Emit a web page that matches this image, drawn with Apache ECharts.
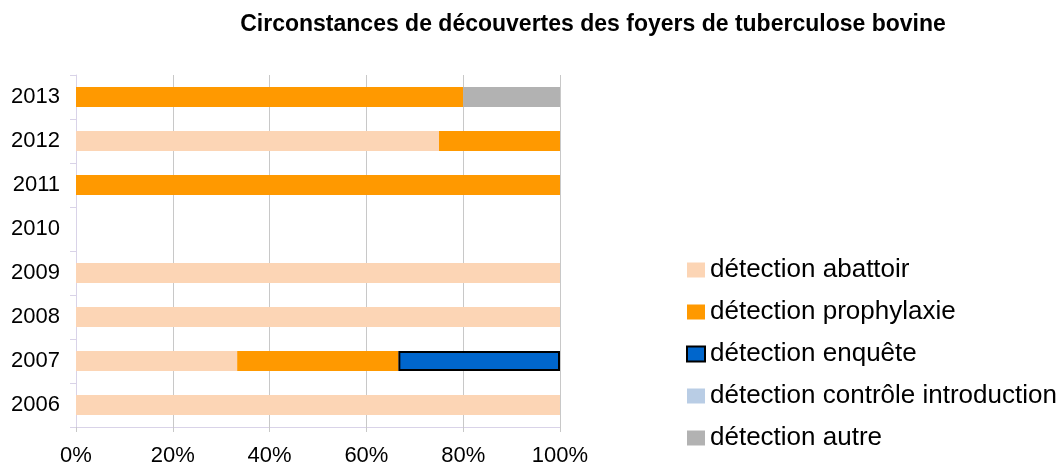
<!DOCTYPE html>
<html>
<head>
<meta charset="utf-8">
<script src="https://cdn.jsdelivr.net/npm/echarts@6/dist/echarts.min.js"></script>
<style>
  html, body { margin: 0; padding: 0; background: #fff; }
  #chart { width: 1060px; height: 470px; }
</style>
</head>
<body>
<div id="chart"></div>
<script>
// années (de bas en haut)
const years = ['2006', '2007', '2008', '2009', '2010', '2011', '2012', '2013']
// parts en %
const abattoir = [100, 33.3, 100, 100, 0, 0, 75, 0]
const prophylaxie = [0, 33.3, 0, 0, 0, 100, 25, 80]
const enquete = [0, 33.4, 0, 0, 0, 0, 0, 0]
const controle = [0, 0, 0, 0, 0, 0, 0, 0]
const autre = [0, 0, 0, 0, 0, 0, 0, 20]

const font = 'Liberation Sans, Arial, sans-serif'

function makeSeries(name, values, color, border) {
    return {
        name: name,
        type: 'bar',
        stack: 'total',
        barWidth: 20,
        data: values.map(v => (v === 0 ? '-' : v)),
        itemStyle: border
            ? { color: color, borderColor: '#000', borderWidth: 2 }
            : { color: color }
    }
}

const option = {
    animation: false,
    backgroundColor: '#fff',
    title: {
        text: 'Circonstances de découvertes des foyers de tuberculose bovine',
        left: 588,
        textAlign: 'center',
        top: 8,
        textStyle: { fontFamily: font, fontSize: 23, fontWeight: 'bold', color: '#000' }
    },
    legend: {
        orient: 'vertical',
        left: 681,
        top: 252,
        itemWidth: 18,
        itemHeight: 15,
        itemGap: 16,
        icon: 'rect',
        textStyle: { fontFamily: font, fontSize: 26, color: '#000' },
        data: ['détection abattoir', 'détection prophylaxie', 'détection enquête',
            'détection contrôle introduction', 'détection autre']
    },
    grid: { left: 76, right: 500, top: 75, bottom: 43 },
    xAxis: {
        type: 'value',
        min: 0,
        max: 100,
        interval: 20,
        axisLine: { show: true, lineStyle: { color: '#d9d3e8' } },
        axisTick: { show: true, length: 5, lineStyle: { color: '#c8c8c8' } },
        splitLine: { show: true, lineStyle: { color: '#c8c8c8' } },
        axisLabel: { formatter: '{value}%', fontFamily: font, fontSize: 22, color: '#000', margin: 18 }
    },
    yAxis: {
        type: 'category',
        data: years,
        axisLine: { show: true, lineStyle: { color: '#d9d3e8' } },
        axisTick: { show: true, length: 6, lineStyle: { color: '#d9d3e8' } },
        axisLabel: { fontFamily: font, fontSize: 22, color: '#000', margin: 16 }
    },
    series: [
        makeSeries('détection abattoir', abattoir, '#fcd5b5'),
        makeSeries('détection prophylaxie', prophylaxie, '#ff9900'),
        makeSeries('détection enquête', enquete, '#0066cc', true),
        makeSeries('détection contrôle introduction', controle, '#b9cde5'),
        makeSeries('détection autre', autre, '#b2b2b2')
    ]
}

const myChart = echarts.init(document.getElementById('chart'))
myChart.setOption(option)
window.addEventListener('resize', () => {
    myChart.resize()
})
</script>
</body>
</html>
